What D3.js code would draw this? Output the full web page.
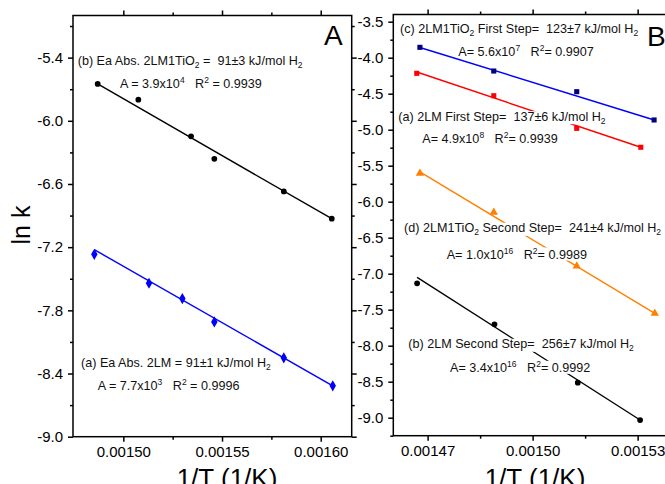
<!DOCTYPE html>
<html>
<head>
<meta charset="utf-8">
<script src="https://cdn.jsdelivr.net/npm/d3@7"></script>
<style>
  body { margin: 0; background: #fff; }
  svg { display: block; font-family: "Liberation Sans", Arial, sans-serif; }
</style>
</head>
<body>
<svg id="chart"></svg>
<script>
// ---- data ----
// panel A
const xA_a = [0.0014853, 0.0015130, 0.0015299, 0.0015461, 0.0015813, 0.0016061];
const yA_a = [-7.268, -7.543, -7.688, -7.910, -8.251, -8.517];
const fitA_a = { x: [0.0014853, 0.0016061], y: [-7.224, -8.517] };

const xA_b = [0.0014870, 0.0015076, 0.0015343, 0.0015461, 0.0015813, 0.0016056];
const yA_b = [-5.650, -5.800, -6.147, -6.361, -6.671, -6.930];
const fitA_b = { x: [0.0014870, 0.0016056], y: [-5.650, -6.930] };

// panel B
const xB_c = [0.0014678, 0.0014889, 0.0015126, 0.0015347];
const yB_c = [-3.856, -4.185, -4.472, -4.865];
const fitB_c = { x: [0.0014678, 0.0015352], y: [-3.858, -4.872] };

const xB_a = [0.0014669, 0.0014889, 0.0015126, 0.0015309];
const yB_a = [-4.217, -4.528, -4.981, -5.244];
const fitB_a = { x: [0.0014669, 0.0015309], y: [-4.199, -5.244] };

const xB_d = [0.0014678, 0.0014889, 0.0015126, 0.0015349];
const yB_d = [-5.606, -6.147, -6.893, -7.550];
const fitB_d = { x: [0.0014678, 0.0015349], y: [-5.587, -7.550] };

const xB_b = [0.0014670, 0.0014891, 0.0015129, 0.0015307];
const yB_b = [-7.133, -7.703, -8.514, -9.032];
const fitB_b = { x: [0.0014670, 0.0015307], y: [-7.050, -9.032] };

// ticks
const xTicksA = [0.00150, 0.00155, 0.00160];
const xMinorA = [0.001525, 0.001575];
const yTicksA = [-9.0, -8.4, -7.8, -7.2, -6.6, -6.0, -5.4];
const yMinorA = [-8.7, -8.1, -7.5, -6.9, -6.3, -5.7, -5.1];
const xTicksB = [0.00147, 0.00150, 0.00153];
const xMinorB = [0.001485, 0.001515];
const yTicksB = [-9.0, -8.5, -8.0, -7.5, -7.0, -6.5, -6.0, -5.5, -5.0, -4.5, -4.0, -3.5];
const yMinorB = [-9.25, -8.75, -8.25, -7.75, -7.25, -6.75, -6.25, -5.75, -5.25, -4.75, -4.25, -3.75];

// annotation texts  (_{} = subscript, ^{} = superscript)
const notesA = [
  "(b) Ea Abs. 2LM1TiO_{2} =  91±3 kJ/mol H_{2}",
  "A = 3.9x10^{4}   R^{2} = 0.9939",
  "(a) Ea Abs. 2LM = 91±1 kJ/mol H_{2}",
  "A = 7.7x10^{3}   R^{2} = 0.9996"
];
const notesB = [
  "(c) 2LM1TiO_{2} First Step=  123±7 kJ/mol H_{2}",
  "A= 5.6x10^{7}   R^{2}= 0.9907",
  "(a) 2LM First Step=  137±6 kJ/mol H_{2}",
  "A= 4.9x10^{8}   R^{2}= 0.9939",
  "(d) 2LM1TiO_{2} Second Step=  241±4 kJ/mol H_{2}",
  "A= 1.0x10^{16}   R^{2}= 0.9989",
  "(b) 2LM Second Step=  256±7 kJ/mol H_{2}",
  "A= 3.4x10^{16}   R^{2}= 0.9992"
];

// ---- layout ----
const W = 665, H = 484;
const svg = d3.select("#chart").attr("width", W).attr("height", H);

const pA = { left: 73, right: 351.7, top: 15.5, bottom: 436.7 };
const pB = { left: 393.3, right: 680, top: 14.5, bottom: 435.7 };

const xA = d3.scaleLinear().domain([0.0014745, 0.0016157]).range([pA.left, pA.right]);
const yA = d3.scaleLinear().domain([-9.0, -5.0]).range([pA.bottom, pA.top]);
const xB = d3.scaleLinear().domain([0.0014602, 0.0015421]).range([pB.left, pB.right]);
const yB = d3.scaleLinear().domain([-9.25, -3.4]).range([pB.bottom, pB.top]);

function drawAxes(p, x, y, xt, xm, yt, ym, xfmt, yfmt) {
  const g = svg.append("g");
  const fix = sel => {
    sel.select(".domain").remove();
    sel.selectAll("line").attr("stroke", "#000").attr("stroke-width", 1.5);
    sel.selectAll("text").attr("fill", "#000").style("font-size", "15px")
      .style("font-family", "'Liberation Sans', Arial, sans-serif");
  };
  // bottom
  g.append("g").attr("transform", `translate(0,${p.bottom})`)
    .call(d3.axisBottom(x).tickValues(xt).tickSize(5).tickPadding(5).tickFormat(xfmt)).call(fix);
  g.append("g").attr("transform", `translate(0,${p.bottom})`)
    .call(d3.axisBottom(x).tickValues(xm).tickSize(3).tickFormat("")).call(fix);
  // top
  g.append("g").attr("transform", `translate(0,${p.top})`)
    .call(d3.axisTop(x).tickValues(xt).tickSize(5).tickFormat("")).call(fix);
  g.append("g").attr("transform", `translate(0,${p.top})`)
    .call(d3.axisTop(x).tickValues(xm).tickSize(3).tickFormat("")).call(fix);
  // left
  g.append("g").attr("transform", `translate(${p.left},0)`)
    .call(d3.axisLeft(y).tickValues(yt).tickSize(5).tickPadding(5).tickFormat(yfmt)).call(fix);
  g.append("g").attr("transform", `translate(${p.left},0)`)
    .call(d3.axisLeft(y).tickValues(ym).tickSize(3).tickFormat("")).call(fix);
  // right
  g.append("g").attr("transform", `translate(${p.right},0)`)
    .call(d3.axisRight(y).tickValues(yt).tickSize(5).tickFormat("")).call(fix);
  g.append("g").attr("transform", `translate(${p.right},0)`)
    .call(d3.axisRight(y).tickValues(ym).tickSize(3).tickFormat("")).call(fix);
  // frame
  g.append("rect")
    .attr("x", p.left).attr("y", p.top)
    .attr("width", p.right - p.left).attr("height", p.bottom - p.top)
    .attr("fill", "none").attr("stroke", "#000").attr("stroke-width", 1.5);
}

drawAxes(pA, xA, yA, xTicksA, xMinorA, yTicksA, yMinorA, d => d.toFixed(5), d => d.toFixed(1));
drawAxes(pB, xB, yB, xTicksB, xMinorB, yTicksB, yMinorB, d => d.toFixed(5), d => d.toFixed(1));

// ---- series ----
function drawSeries(x, y, xs, ys, fit, color, mColor, shape, size) {
  const g = svg.append("g");
  const pts = xs.map((v, i) => [v, ys[i]]);
  const fitPts = fit.x.map((v, i) => [v, fit.y[i]]);
  g.append("path")
    .attr("d", d3.line().x(d => x(d[0])).y(d => y(d[1]))(fitPts))
    .attr("fill", "none").attr("stroke", color).attr("stroke-width", 1.4);
  g.selectAll("path.m").data(pts).enter().append("path")
    .attr("class", "m")
    .attr("transform", d => `translate(${x(d[0])},${y(d[1])})`)
    .attr("d", d3.symbol().type(shape).size(size))
    .attr("fill", mColor);
}

drawSeries(xA, yA, xA_b, yA_b, fitA_b, "#000", "#000", d3.symbolCircle, 26);
drawSeries(xA, yA, xA_a, yA_a, fitA_a, "#0000ff", "#0000ff", d3.symbolDiamond, 36);

drawSeries(xB, yB, xB_c, yB_c, fitB_c, "#0000ff", "#000080", d3.symbolSquare, 26);
drawSeries(xB, yB, xB_a, yB_a, fitB_a, "#ff0000", "#ff0000", d3.symbolSquare, 26);
drawSeries(xB, yB, xB_d, yB_d, fitB_d, "#ff8000", "#ff8000", d3.symbolTriangle, 30);
drawSeries(xB, yB, xB_b, yB_b, fitB_b, "#000", "#000", d3.symbolCircle, 26);

// ---- annotations (white box behind, like the original) ----
function note(str, px, py) {
  const g = svg.append("g");
  const bg = g.append("rect").attr("fill", "#fff");
  const t = g.append("text").attr("x", px).attr("y", py)
    .style("font-size", "12.6px").style("white-space", "pre").attr("fill", "#111");
  const parts = str.split(/([_^]\{[^}]*\})/).filter(s => s.length);
  let shift = 0;
  parts.forEach(s => {
    const m = s.match(/^([_^])\{([^}]*)\}$/);
    if (m) {
      const d = m[1] === "_" ? 3 : -5;
      t.append("tspan").attr("dy", d - shift).style("font-size", "8.5px").text(m[2]);
      shift = d;
    } else {
      t.append("tspan").attr("dy", -shift).text(s);
      shift = 0;
    }
  });
  const b = t.node().getBBox();
  bg.attr("x", b.x).attr("y", b.y + 1.5).attr("width", b.width).attr("height", b.height - 3);
}

const posA = [[77.7, 65], [120, 88.3], [81, 366.7], [97.7, 390]];
const posB = [[400, 33.3], [458.3, 56], [398.3, 120.7], [422.3, 143.3],
              [404, 232.3], [446.7, 259], [408.3, 348.3], [450, 372.3]];
notesA.forEach((s, i) => note(s, posA[i][0], posA[i][1]));
notesB.forEach((s, i) => note(s, posB[i][0], posB[i][1]));

// ---- panel letters and axis titles ----
svg.append("text").attr("x", 324).attr("y", 45).style("font-size", "28px").text("A");
svg.append("text").attr("x", 647).attr("y", 46).style("font-size", "28px").text("B");

svg.append("text")
  .attr("transform", "translate(30,225) rotate(-90)")
  .attr("text-anchor", "middle")
  .style("font-size", "25px")
  .text("ln k");

svg.append("text").attr("x", 227).attr("y", 487).attr("text-anchor", "middle")
  .style("font-size", "26px").text("1/T (1/K)");
svg.append("text").attr("x", 535).attr("y", 487).attr("text-anchor", "middle")
  .style("font-size", "26px").text("1/T (1/K)");
</script>
</body>
</html>
